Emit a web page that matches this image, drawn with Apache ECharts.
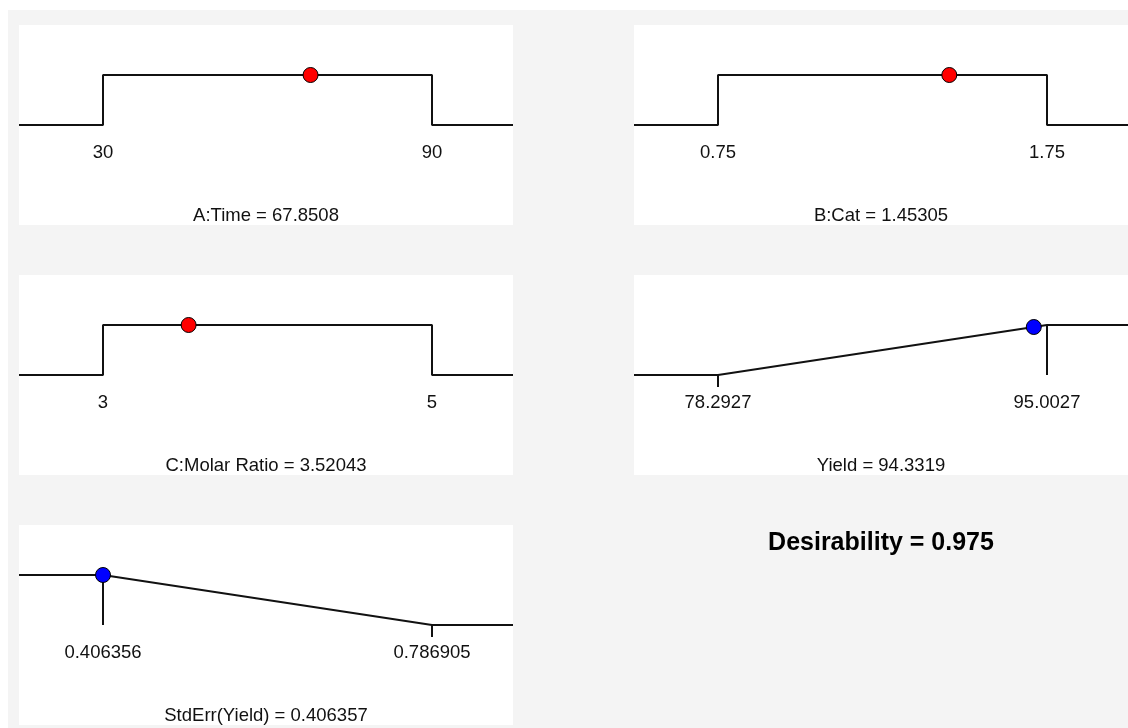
<!DOCTYPE html>
<html>
<head>
<meta charset="utf-8">
<script src="https://cdn.jsdelivr.net/npm/echarts@6/dist/echarts.min.js"></script>
<style>
  html, body { margin: 0; padding: 0; background: #ffffff; }
  #wrap { position: relative; width: 1128px; height: 728px; overflow: hidden; background: #ffffff; }
  #bg { position: absolute; left: 8px; top: 10px; right: 0; bottom: 0; background: #f4f4f4; }
  #chart { position: absolute; left: 0; top: 0; width: 1128px; height: 728px; }
</style>
</head>
<body>
<div id="wrap"><div id="bg"></div><div id="chart"></div></div>
<script>
// ---- data ----
const factorNames = ['A:Time', 'B:Cat', 'C:Molar Ratio'];
const factorLow = [30, 0.75, 3];
const factorHigh = [90, 1.75, 5];
const factorValue = [67.8508, 1.45305, 3.52043];
const factorTickLabels = [['30', '90'], ['0.75', '1.75'], ['3', '5']];
const factorValueLabels = ['67.8508', '1.45305', '3.52043'];

const responseNames = ['Yield', 'StdErr(Yield)'];
const responseLow = [78.2927, 0.406356];
const responseHigh = [95.0027, 0.786905];
const responseValue = [94.3319, 0.406357];
const responseGoal = ['maximize', 'minimize'];
const responseDesirability = [0.96, 1.0];
const responseTickLabels = [['78.2927', '95.0027'], ['0.406356', '0.786905']];
const responseValueLabels = ['94.3319', '0.406357'];

const overallDesirability = '0.975';

// ---- layout ----
const PW = 494, PH = 200, LO_OFF = 84, SPAN = 329;
const colLeft = [19, 634];
const rowTop = [25, 275, 525];
const FONT = '"Liberation Sans", Arial, sans-serif';
const LINE = '#111111';
const FS = 18.5;

function extent(lo, hi) {
  const k = (hi - lo) / SPAN;
  return [lo - LO_OFF * k, lo + (PW - LO_OFF) * k];
}

const panels = [];
for (let i = 0; i < factorNames.length; i++) {
  panels.push({ kind: 'factor', name: factorNames[i], lo: factorLow[i], hi: factorHigh[i],
    value: factorValue[i], d: 1, ticks: factorTickLabels[i], valueLabel: factorValueLabels[i] });
}
for (let i = 0; i < responseNames.length; i++) {
  panels.push({ kind: 'response', goal: responseGoal[i], name: responseNames[i], lo: responseLow[i], hi: responseHigh[i],
    value: responseValue[i], d: responseDesirability[i], ticks: responseTickLabels[i], valueLabel: responseValueLabels[i] });
}
const positions = [[0, 0], [1, 0], [0, 1], [1, 1], [0, 2]];

const grid = [], xAxis = [], yAxis = [], series = [];
panels.forEach((p, i) => {
  const [c, r] = positions[i];
  const [xmin, xmax] = extent(p.lo, p.hi);
  grid.push({ left: colLeft[c], top: rowTop[r], width: PW, height: PH, show: true,
    backgroundColor: '#ffffff', borderWidth: 0, containLabel: false, outerBoundsMode: 'none' });
  xAxis.push({
    gridIndex: i, type: 'value', min: xmin, max: xmax, position: 'bottom', offset: -PH / 2,
    axisLine: { show: false, onZero: false },
    axisTick: { show: false },
    splitLine: { show: false },
    axisLabel: {
      customValues: [p.lo, p.hi], margin: 18, color: '#111', fontSize: FS, fontFamily: FONT,
      showMinLabel: true, showMaxLabel: true,
      formatter: (v) => (v === p.lo ? p.ticks[0] : p.ticks[1])
    },
    name: p.name + ' = ' + p.valueLabel, nameLocation: 'middle', nameGap: 81,
    nameTextStyle: { color: '#111', fontSize: FS, fontFamily: FONT }
  });
  yAxis.push({ gridIndex: i, type: 'value', min: -2, max: 2, show: false });

  let curve;
  const ticks = [];
  if (p.kind === 'factor') {
    curve = [[xmin, 0], [p.lo, 0], [p.lo, 1], [p.hi, 1], [p.hi, 0], [xmax, 0]];
  } else if (p.goal === 'maximize') {
    curve = [[xmin, 0], [p.lo, 0], [p.hi, 1], [xmax, 1]];
    ticks.push([[p.lo, 0], [p.lo, -0.24]]);
    ticks.push([[p.hi, 1], [p.hi, 0]]);
  } else {
    curve = [[xmin, 1], [p.lo, 1], [p.hi, 0], [xmax, 0]];
    ticks.push([[p.lo, 1], [p.lo, 0]]);
    ticks.push([[p.hi, 0], [p.hi, -0.24]]);
  }
  series.push({ type: 'line', xAxisIndex: i, yAxisIndex: i, data: curve, symbol: 'none',
    lineStyle: { color: LINE, width: 2 }, animation: false, silent: true, z: 2 });
  ticks.forEach(t => series.push({ type: 'line', xAxisIndex: i, yAxisIndex: i, data: t, symbol: 'none',
    lineStyle: { color: LINE, width: 2 }, animation: false, silent: true, z: 2 }));
  series.push({ type: 'scatter', xAxisIndex: i, yAxisIndex: i, data: [[p.value, p.d]],
    symbol: 'circle', symbolSize: 15,
    itemStyle: { color: p.kind === 'factor' ? '#ff0000' : '#0000ff', borderColor: '#000', borderWidth: 1, opacity: 1 },
    animation: false, silent: true, z: 5 });
});

const chart = echarts.init(document.getElementById('chart'), null, { renderer: 'canvas' });
chart.setOption({
  backgroundColor: 'transparent',
  animation: false,
  grid, xAxis, yAxis, series,
  graphic: [{
    type: 'text', x: 881, y: 543,
    style: { text: 'Desirability = ' + overallDesirability, fill: '#000',
      font: 'bold 25px ' + FONT, textAlign: 'center', textVerticalAlign: 'middle' }
  }]
});
</script>
</body>
</html>
